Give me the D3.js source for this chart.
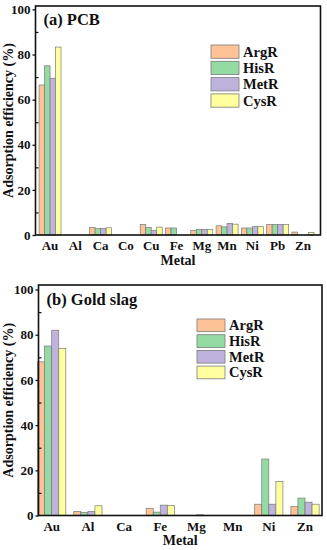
<!DOCTYPE html>
<html><head><meta charset="utf-8">
<script src="https://cdn.jsdelivr.net/npm/d3@7"></script>
<style>
html,body{margin:0;padding:0;background:#fff;}
svg{display:block;}
text{font-family:"Liberation Serif","Times New Roman",serif;font-weight:bold;fill:#111;}
</style></head>
<body>
<svg id="chart" width="327" height="550"></svg>
<script>
const seriesNames = ["ArgR","HisR","MetR","CysR"];
const seriesColors = ["#FDC295","#93DBA2","#BFB3DD","#FFFFA0"];
const yTicks = [0,20,40,60,80,100];
const yMinorTicks = [10,30,50,70,90];

const pcbMetals = ["Au","Al","Ca","Co","Cu","Fe","Mg","Mn","Ni","Pb","Zn"];
const pcbArgR = [66.5,0,3.3,0,4.7,3.1,2.0,4.1,3.1,4.7,1.3];
const pcbHisR = [75,0,2.8,0,3.4,3.1,2.5,3.6,3.1,4.7,0];
const pcbMetR = [69.5,0,2.9,0,2.0,0,2.5,5.1,3.7,4.6,0];
const pcbCysR = [83.3,0,3.2,0,3.5,0,2.5,4.8,3.7,4.6,1.1];

const slagMetals = ["Au","Al","Ca","Fe","Mg","Mn","Ni","Zn"];
const slagArgR = [68,1.8,0,3.2,0,0,5.0,4.0];
const slagHisR = [75,1.3,0,1.5,0,0,25,7.7];
const slagMetR = [82,1.8,0,4.6,0.3,0,5.0,5.9];
const slagCysR = [74,4.3,0,4.4,0,0,15,5.0];

const svg = d3.select("#chart");

function panel(cfg){
  const g = svg.append("g");
  const y = d3.scaleLinear().domain([0,cfg.yMax]).range([cfg.bottom,cfg.top]);
  const x = d3.scaleBand().domain(cfg.cats).range(cfg.xRange)
      .paddingInner(cfg.pi).paddingOuter(cfg.pi/2);
  const xs = d3.scaleBand().domain(seriesNames).range([0,x.bandwidth()]);
  const color = d3.scaleOrdinal().domain(seriesNames).range(seriesColors);

  cfg.cats.forEach((c,i)=>{
    seriesNames.forEach((s,j)=>{
      const v = cfg.vals[j][i];
      if(v<=0) return;
      g.append("rect")
        .attr("x", x(c)+xs(s))
        .attr("y", y(v))
        .attr("width", xs.bandwidth())
        .attr("height", y(0)-y(v))
        .attr("fill", color(s))
        .attr("stroke","#7a7a7a")
        .attr("stroke-width",0.7);
    });
  });

  g.append("rect").attr("x",cfg.left).attr("y",cfg.top)
    .attr("width",cfg.right-cfg.left).attr("height",cfg.bottom-cfg.top)
    .attr("fill","none").attr("stroke","#111").attr("stroke-width",1.6);

  const ya = g.append("g").attr("transform",`translate(${cfg.left},0)`)
    .call(d3.axisLeft(y).tickValues(yTicks).tickSize(3).tickPadding(2));
  ya.select(".domain").remove();
  ya.selectAll("line").attr("stroke","#111").attr("stroke-width",1.3);
  ya.selectAll("text").attr("font-size",13).style("font-family",'"Liberation Serif",serif').style("font-weight","bold").attr("fill","#111");
  const ym = g.append("g").attr("transform",`translate(${cfg.left},0)`)
    .call(d3.axisRight(y).tickValues(yMinorTicks).tickSize(3).tickFormat(""));
  ym.select(".domain").remove();
  ym.selectAll("line").attr("stroke","#111").attr("stroke-width",1.2);

  const xa = g.append("g").attr("transform",`translate(0,${cfg.bottom})`)
    .call(d3.axisBottom(x).tickSize(0).tickPadding(6));
  xa.select(".domain").remove();
  xa.selectAll("text").attr("font-size",13).style("font-family",'"Liberation Serif",serif').style("font-weight","bold").attr("fill","#111");

  g.append("text").attr("x",(cfg.left+cfg.right)/2).attr("y",cfg.bottom+29.5)
    .attr("text-anchor","middle").attr("font-size",14).text("Metal");

  g.append("text")
    .attr("transform",`translate(${cfg.yLabelX},${(cfg.top+cfg.bottom)/2}) rotate(-90)`)
    .attr("text-anchor","middle").attr("font-size",14).text("Adsorption efficiency (%)");

  g.append("text").attr("x",cfg.left+8).attr("y",cfg.titleY)
    .attr("font-size",16.5).text(cfg.title);

  const lg = g.append("g").attr("transform",`translate(${cfg.legX},${cfg.legY})`);
  seriesNames.forEach((s,j)=>{
    lg.append("rect").attr("x",0).attr("y",j*cfg.legStep)
      .attr("width",28).attr("height",cfg.legStep-3)
      .attr("fill",color(s)).attr("stroke","#7a7a7a").attr("stroke-width",0.8);
    lg.append("text").attr("x",32).attr("y",j*cfg.legStep+(cfg.legStep-3)/2+5)
      .attr("font-size",14.5).text(s);
  });
}

panel({cats:pcbMetals, vals:[pcbArgR,pcbHisR,pcbMetR,pcbCysR],
  left:35.5, right:320.5, top:6, bottom:235, yMax:101.5,
  xRange:[37.4,315.6], pi:0.13, yLabelX:13, title:"(a) PCB", titleY:25,
  legX:211, legY:45, legStep:16.3});

panel({cats:slagMetals, vals:[slagArgR,slagHisR,slagMetR,slagCysR],
  left:38.5, right:322, top:285, bottom:515.5, yMax:102,
  xRange:[33.6,323.1], pi:0.22, yLabelX:13, title:"(b) Gold slag", titleY:305,
  legX:197, legY:319, legStep:15.7});
</script>
</body></html>
